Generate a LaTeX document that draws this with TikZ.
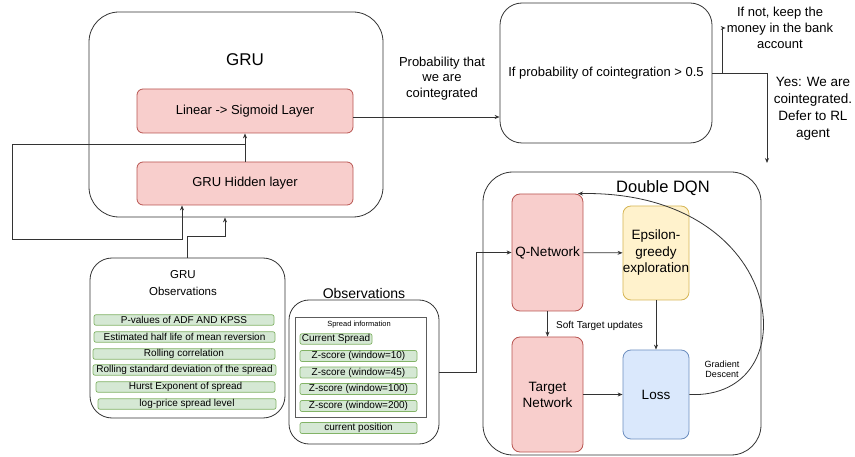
\documentclass[tikz,border=0pt]{standalone}
\usepackage{fontspec}
\setmainfont{Liberation Sans}
\usetikzlibrary{arrows.meta,calc}
\definecolor{redf}{HTML}{F8CECC}
\definecolor{redd}{HTML}{B85450}
\definecolor{grnf}{HTML}{D5E8D4}
\definecolor{grnd}{HTML}{82B366}
\definecolor{ylwf}{HTML}{FFF2CC}
\definecolor{ylwd}{HTML}{D6B656}
\definecolor{bluf}{HTML}{DAE8FC}
\definecolor{blud}{HTML}{6C8EBF}
\definecolor{edgec}{HTML}{333333}
\tikzset{
  arr/.style={draw=edgec, line width=0.8pt, -{Stealth[length=5pt,width=4pt]}},
  ln/.style={draw=edgec, line width=0.8pt},
  wh/.style 2 args={minimum width=#1, minimum height=#2},
  ft/.style 2 args={font=\fontsize{#1}{#2}\selectfont},
  outerbox/.style={draw=edgec, line width=0.8pt, rounded corners=#1, rectangle, inner sep=0pt, align=center},
  outerbox/.default=30,
  redbox/.style={draw=redd, fill=redf, line width=0.8pt, rounded corners=#1, rectangle, inner sep=0pt, align=center},
  redbox/.default=6,
  ylwbox/.style={draw=ylwd, fill=ylwf, line width=0.8pt, rounded corners=8, rectangle, inner sep=0pt, align=center},
  blubox/.style={draw=blud, fill=bluf, line width=0.8pt, rounded corners=8, rectangle, inner sep=0pt, align=center},
  grnbox/.style={draw=grnd, fill=grnf, line width=0.7pt, rounded corners=2, rectangle, inner sep=0pt, align=center, ft={10}{12}},
  lbl/.style={align=center, inner sep=1pt},
}
\begin{document}
\begin{tikzpicture}[x=1pt,y=-1pt]
\useasboundingbox (0,0) rectangle (855,457);

% ---------- GRU ----------
\node[outerbox=30, wh={294}{205}] (gru) at (236,114.5) {};
\node[lbl, ft={17}{20}] (grut) at (245,60) {GRU};
\node[redbox, wh={216}{44}, ft={13}{16}] (lin) at (245,111) {Linear -> Sigmoid Layer};
\node[redbox, wh={216}{43}, ft={13}{16}] (hid) at (245,183.5) {GRU Hidden layer};
\draw[arr] (hid) -- (lin);
\coordinate (j1) at (245,144);
\draw[arr] (j1) -- (12,144) -- (12,239) -- (182,239) -- ([xshift=-63]hid.south);

% ---------- GRU observations ----------
\node[outerbox=22, wh={195}{160}] (gobs) at (187.5,338) {};
\node[lbl, ft={11.5}{17}] (gobst) at (183,283.5) {GRU\\Observations};
\node[grnbox, wh={180}{10.5}] (g1) at (184,320) {P-values of ADF AND KPSS};
\node[grnbox, wh={181}{10.5}] (g2) at (184.5,337) {Estimated half life of mean reversion};
\node[grnbox, wh={182}{10.5}] (g3) at (184,354) {Rolling correlation};
\node[grnbox, wh={183}{10.5}] (g4) at (184.5,370) {Rolling standard deviation of the spread};
\node[grnbox, wh={179}{10.5}] (g5) at (185.5,387) {Hurst Exponent of spread};
\node[grnbox, wh={178}{10.5}] (g6) at (187,404) {log-price spread level};
\draw[arr] (gobs.north) -- ++(0,-21) -| ([xshift=-11]gru.south);

% ---------- Observations ----------
\node[lbl, ft={14}{17}] (obst) at (364,293) {Observations};
\node[outerbox=20, wh={150}{144}] (obs) at (364,372) {};
\node[draw=edgec!80, line width=0.7pt, rectangle, inner sep=0pt, wh={131}{100}] (spread) at (360.5,367) {};
\node[lbl, ft={7.5}{9}] (spreadt) at (359,325) {Spread information};
\node[grnbox, wh={72}{10.5}] (cs) at (336,339) {Current Spread};
\node[grnbox, wh={117}{11}] (z1) at (358.5,356) {Z-score (window=10)};
\node[grnbox, wh={117}{11}] (z2) at (358.5,372.5) {Z-score (window=45)};
\node[grnbox, wh={117}{11}] (z3) at (358.5,389) {Z-score (window=100)};
\node[grnbox, wh={117}{11}] (z4) at (358.5,406) {Z-score (window=200)};
\node[grnbox, wh={117}{11}] (cp) at (358.5,428) {current position};

% ---------- Decision ----------
\node[outerbox=22, wh={212}{140}, ft={13}{16}] (dec) at (606,73) {If probability of cointegration > 0.5};
\node[lbl, ft={13}{15.5}] (prob) at (442,78.5) {Probability that\\we are\\cointegrated};
\draw[arr] ($(lin.east)+(0,6)$) -- ($(dec.west)+(0,44)$);
\node[lbl, ft={13}{16}] (ifnot) at (780,28) {If not, keep the\\money in the bank\\account};
\node[lbl, ft={13.5}{17}] (yes) at (813,109) {Yes: We are\\cointegrated.\\Defer to RL\\agent};
\coordinate (yesend) at (767,163);
\draw[arr] (dec.east) -- ++(10,0) |- (ifnot.west);
\draw[arr] (dec.east) -| (yesend);

% ---------- Double DQN ----------
\node[outerbox=30, wh={278}{283}] (ddqn) at (622,313.5) {};
\node[lbl, ft={16.5}{20}] (ddqnt) at (663,188) {Double DQN};
\node[redbox=8, wh={71}{117}, ft={13.5}{16}] (q) at (547.5,252.5) {Q-Network};
\node[ylwbox, wh={66}{94}, ft={13.5}{16.5}] (eps) at (656,253) {Epsilon-\\greedy\\exploration};
\node[redbox=8, wh={71}{115}, ft={13.5}{16}] (tgt) at (547.5,394.5) {Target\\Network};
\node[blubox, wh={66}{89}, ft={13.5}{16}] (loss) at (656,394.5) {Loss};
\draw[arr] (q) -- (eps);
\draw[arr] (q) -- (tgt);
\node[lbl, anchor=west, ft={10}{12}] (soft) at (555,326) {Soft Target updates};
\draw[arr] (eps) -- (loss);
\draw[arr] (tgt) -- (loss);
\draw[arr] (loss.east) .. controls (810,400) and (790,190) .. ([xshift=30.5]q.north);
\node[lbl, ft={9}{10.5}] (grad) at (722,369.5) {Gradient\\Descent};

\draw[arr] (obs.east) -- ++(37,0) |- (q.west);
\end{tikzpicture}
\end{document}
